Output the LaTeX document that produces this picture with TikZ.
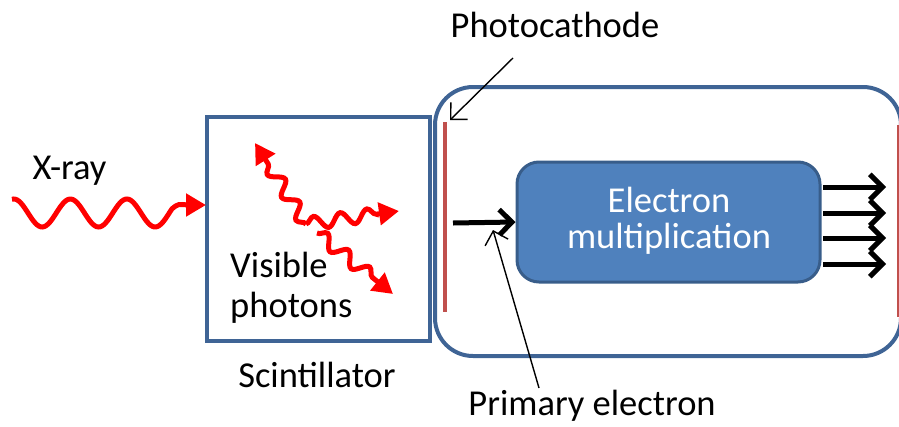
\documentclass[tikz,border=0pt]{standalone}
\usepackage{fontspec}
\setmainfont{Carlito}
\usetikzlibrary{arrows.meta,decorations.pathmorphing}
\definecolor{frame}{HTML}{3F6495}
\definecolor{cathode}{HTML}{C0504D}
\definecolor{emfill}{HTML}{4F81BD}
\definecolor{emdraw}{HTML}{385D8A}

\begin{document}
\begin{tikzpicture}[x=1pt,y=-1pt,
  lbl/.style={font=\fontsize{36.5}{36}\selectfont, inner sep=0pt, anchor=base},
  photon/.style={red, line width=5pt, -{Triangle[length=20pt 0 0,width=22pt 0 0]}},
  wiggle/.style={decorate, decoration={snake, amplitude=6.5pt, segment length=27pt, post length=20pt}},
  heavy arrow/.style={line width=5pt, -{Straight Barb[scale=1.1]}},
  pointer/.style={line width=1.4pt, -{Straight Barb[length=12pt 0 0,width=24pt 0 0,line width=1.4pt 0]}},
  frameline/.style={draw=frame, line width=4pt, inner sep=0pt}]
\useasboundingbox (0,0) rectangle (899,426);

% scintillator block and photomultiplier tube
\node[frameline, minimum width=223pt, minimum height=224pt] (scint) at (318.5,229) {};
\node[frameline, rounded corners=38pt, minimum width=466pt, minimum height=269pt] (tube) at (668,221.5) {};

% photocathode and anode plates
\coordinate (pctop) at (445,122);
\coordinate (pcbot) at (445,312);
\draw[cathode, line width=4pt] (pctop) -- (pcbot);
\coordinate (antop) at (898,125);
\coordinate (anbot) at (898,317);
\draw[cathode, line width=3pt] (antop) -- (anbot);

% electron multiplier
\node[draw=emdraw, fill=emfill, line width=3pt, rounded corners=22pt,
      minimum width=303pt, minimum height=120pt] (em) at (668.5,222) {};
\node[lbl, white] (emA) at (669,212) {Electron};
\node[lbl, white] (emB) at (669,248) {multiplication};

% primary electron into the multiplier
\coordinate (pe) at (453,223);
\draw[heavy arrow] (pe) -- (em.west);

% secondary electrons leaving the multiplier
\foreach \y [count=\i] in {187,213,238,264}{
  \coordinate (out\i s) at (823,\y);
  \coordinate (out\i e) at (886,\y);
  \draw[heavy arrow] (out\i s) -- (out\i e);
}

% incoming X-ray
\node[lbl] (xray) at (69.5,179) {X-ray};
\coordinate (xtip) at (206,205);
\draw[photon] plot[domain=12:172, samples=90] (\x, {213+14*sin((\x-28)*6.3717)})
  .. controls (178,204) .. (188,205) -- (xtip);

% visible photons inside the scintillator
\coordinate (ph0) at (306,224);
\coordinate (ph1) at (255,143);
\coordinate (ph2) at (399,211);
\coordinate (ph3s) at (317,233);
\coordinate (ph3) at (393,294);
\draw[photon, wiggle] (ph0) -- (ph1);
\draw[photon, wiggle] (ph0) -- (ph2);
\draw[photon, wiggle] (ph3s) -- (ph3);
\node[lbl, anchor=base west] (vis) at (230,277) {Visible};
\node[lbl, anchor=base west] (phot) at (230,317) {photons};

% labels
\node[lbl] (scintlbl) at (317,387) {Scintillator};
\node[lbl] (pclbl) at (555,37) {Photocathode};
\node[lbl] (pelbl) at (592,415) {Primary electron};
\coordinate (pcfrom) at (513,58);
\coordinate (pcto) at (450,120);
\draw[pointer] (pcfrom) -- (pcto);
\coordinate (pefrom) at (539,388);
\coordinate (peto) at (493,230);
\draw[pointer] (pefrom) -- (peto);
\end{tikzpicture}
\end{document}
